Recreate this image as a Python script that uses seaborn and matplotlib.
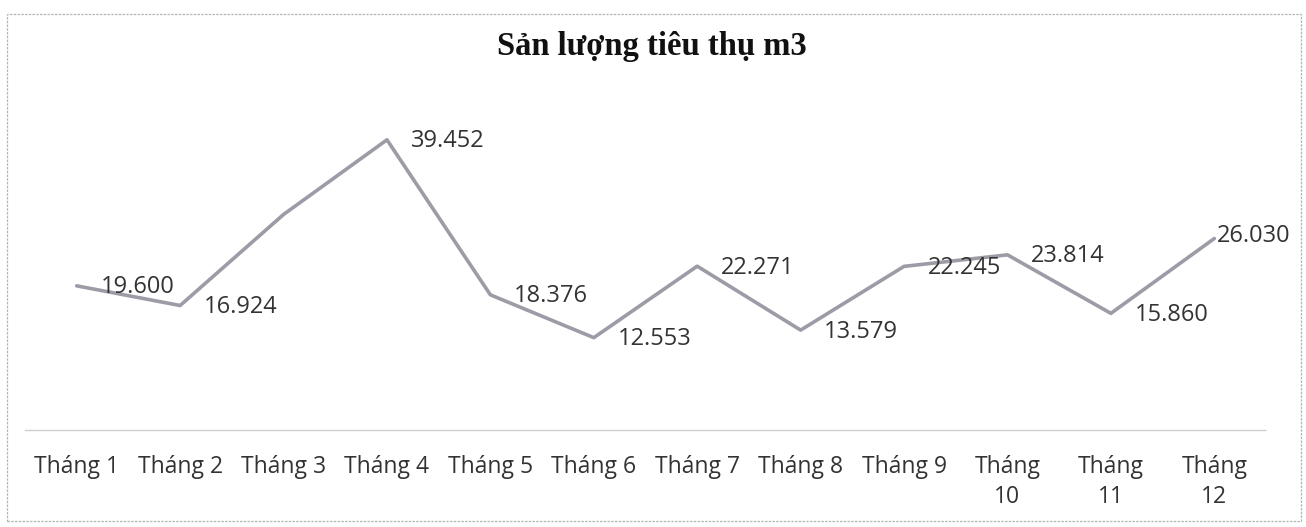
import matplotlib
matplotlib.use("Agg")
import matplotlib.pyplot as plt
import seaborn as sns
import pandas as pd
from matplotlib.patches import Rectangle

months = ["Tháng 1", "Tháng 2", "Tháng 3", "Tháng 4", "Tháng 5", "Tháng 6",
          "Tháng 7", "Tháng 8", "Tháng 9", "Tháng\n10", "Tháng\n11", "Tháng\n12"]
values = [19.600, 16.924, 29.3, 39.452, 18.376, 12.553,
          22.271, 13.579, 22.245, 23.814, 15.860, 26.030]
labels = ["19.600", "16.924", "", "39.452", "18.376", "12.553",
          "22.271", "13.579", "22.245", "23.814", "15.860", "26.030"]
title = "Sản lượng tiêu thụ m3"

sns.set_theme(style="white")
plt.rcParams["font.family"] = ["Open Sans", "DejaVu Sans"]

df = pd.DataFrame({"month": months, "value": values})

fig = plt.figure(figsize=(13.06, 5.27), dpi=100)
ax = fig.add_axes([25 / 1306, 1 - 430 / 527, (1266 - 25) / 1306, (430 - 99) / 527])

sns.lineplot(data=df, x="month", y="value", ax=ax, color="#9c9ca6",
             linewidth=2.6, sort=False)

for i, (v, lab) in enumerate(zip(values, labels)):
    if lab:
        off = (2, 2) if i == len(values) - 1 else (17, -1)
        ax.annotate(lab, (i, v), xytext=off, textcoords="offset points",
                    ha="left", va="center", fontsize=17, color="#333333")

ax.set_xlim(-0.5, len(months) - 0.5)
ax.set_ylim(0, 45)
ax.set_xlabel("")
ax.set_ylabel("")
ax.set_yticks([])
ax.set_xticks(range(len(months)))
ax.set_xticklabels(months, fontsize=16.5, color="#333333", linespacing=1.35, va="top")
ax.tick_params(axis="x", length=0, pad=18)
ax.set_xticks([i - 0.5 for i in range(len(months) + 1)], minor=True)
ax.tick_params(axis="x", which="minor", length=4, color="#d0d0d0", width=0.8, direction="out")
for s in ["top", "right", "left"]:
    ax.spines[s].set_visible(False)
ax.spines["bottom"].set_color("#cfcfcf")
ax.spines["bottom"].set_linewidth(1.0)
ax.spines["bottom"].set_linestyle((0, (2, 1)))

fig.text(652 / 1306, 1 - 47 / 527, title, ha="center", va="center",
         fontsize=23.5, fontweight="bold", family="Liberation Serif", color="#111111")

fig.patches.append(Rectangle((7 / 1306, 1 - 521 / 527), (1301 - 7) / 1306, (521 - 14) / 527,
                             transform=fig.transFigure, fill=False,
                             edgecolor="#b5b5b5", linewidth=0.9, linestyle=(0, (2, 1))))

fig.savefig("out.png", dpi=100, facecolor="white")
